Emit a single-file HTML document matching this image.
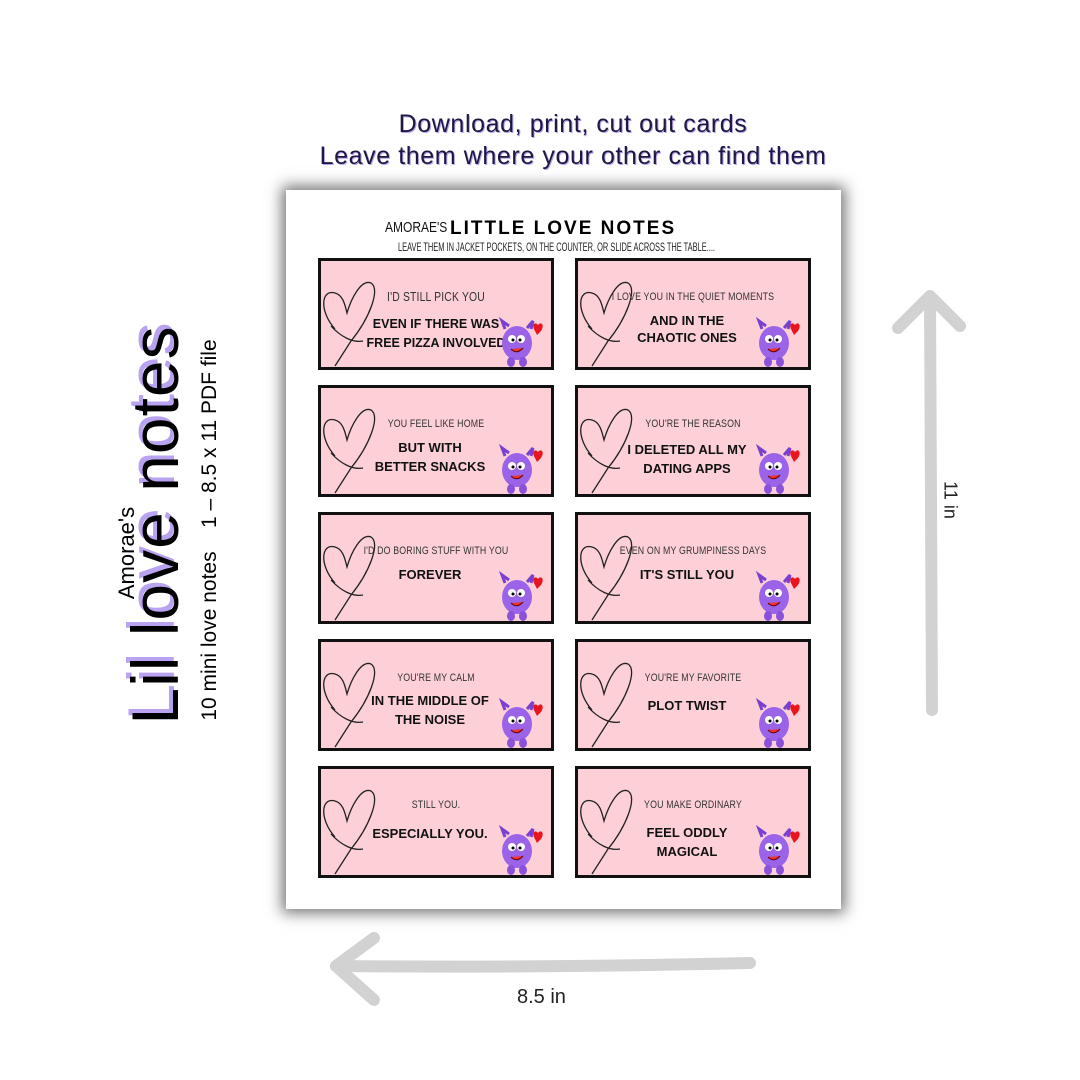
<!DOCTYPE html>
<html><head><meta charset="utf-8"><style>
body{margin:0;width:1080px;height:1080px;background:#fff;position:relative;overflow:hidden;font-family:"Liberation Sans",sans-serif}
.abs{position:absolute}
.top{left:0;width:1146px;text-align:center;font-size:25px;letter-spacing:.6px;color:#1d1840;text-shadow:1px 1px 0 #b9a2ef}
.sheet{left:286px;top:190px;width:555px;height:719px;background:#fff;box-shadow:0 0 14px 4px rgba(0,0,0,.55)}
.card{position:absolute;width:230px;height:106px;background:#fdd0d7;border:3px solid #111;box-sizing:content-box}
.card svg.h{position:absolute;left:0;top:10px}
.sm{position:absolute;left:0;width:100%;top:30px;text-align:center;font-size:11px;color:#333;transform:scaleX(.8);letter-spacing:.2px}
.bd{position:absolute;left:-6px;width:100%;top:52px;text-align:center;font-size:13px;font-weight:bold;line-height:19px;color:#111}
.mon{position:absolute;right:4px;bottom:-2px}
</style></head><body>
<div class="abs top" style="top:110px">Download, print, cut out cards</div>
<div class="abs top" style="top:142px;left:0">Leave them where your other can find them</div>

<div class="abs" style="left:155px;top:525px;transform:translate(-50%,-50%) rotate(-90deg);white-space:nowrap;font-size:66px;color:#000;text-shadow:4px -4px 0 #b9a2ef;letter-spacing:1px">Lil love notes</div>
<div class="abs" style="left:127px;top:553px;transform:translate(-50%,-50%) rotate(-90deg);white-space:nowrap;font-size:22px;color:#000">Amorae's</div>
<div class="abs" style="left:210px;top:530px;transform:translate(-50%,-50%) rotate(-90deg);white-space:nowrap;font-size:21px;color:#000">10 mini love notes &nbsp;&nbsp; 1 – 8.5 x 11 PDF file</div>

<svg class="abs" style="left:0;top:0" width="1080" height="1080">
<g stroke="#d2d2d2" stroke-width="12" fill="none" stroke-linecap="round" stroke-linejoin="round">
<path d="M932 710 L930 298"/><path d="M898 328 L930 296 L960 326"/>
<path d="M750 963 Q540 968 336 966"/><path d="M374 938 L336 966 L374 1000"/>
</g></svg>
<div class="abs" style="left:950px;top:500px;transform:translate(-50%,-50%) rotate(90deg);font-size:18px;color:#222">11 in</div>
<div class="abs" style="left:517px;top:986px;font-size:20px;color:#222">8.5 in</div>

<div class="abs sheet"></div>
<div class="abs" style="left:385px;top:219px;font-size:15px;transform:scaleX(.8);transform-origin:left;color:#111">AMORAE'S</div>
<div class="abs" style="left:450px;top:218px;font-size:19px;font-weight:bold;letter-spacing:2px;color:#000">LITTLE LOVE NOTES</div>
<div class="abs" style="left:398px;top:240px;font-size:12px;transform:scaleX(.62);transform-origin:left;color:#222;white-space:nowrap">LEAVE THEM IN JACKET POCKETS, ON THE COUNTER, OR SLIDE ACROSS THE TABLE....</div>

<svg width="0" height="0" style="position:absolute"><defs>
<g id="hrt"><path d="M14 58 C-2 40 0 18 14 22 C22 24 24 34 26 42 C30 28 40 8 50 12 C60 18 48 48 30 70 L14 95 M10 55 C20 66 32 72 42 70" stroke="#222" stroke-width="1.3" fill="none"/></g>
<g id="mon"><ellipse cx="20" cy="30" rx="15" ry="17" fill="#9a63e8"/><ellipse cx="14" cy="49" rx="4" ry="5" fill="#8a52da"/><ellipse cx="26" cy="49" rx="4" ry="5" fill="#8a52da"/><path d="M8 16 L5 8 L12 13 M30 15 L36 8 L34 16" stroke="#7a3fd0" stroke-width="3" fill="none"/><circle cx="15" cy="26" r="4" fill="#fff"/><circle cx="24" cy="26" r="4" fill="#fff"/><circle cx="16" cy="27" r="1.5"/><circle cx="23" cy="27" r="1.5"/><path d="M14 36 Q20 42 26 35" fill="#e33" stroke="#600"/><path d="M38 18 C34 12 38 8 41 12 C44 8 48 12 44 18 L40 22 Z" fill="#e8141e"/></g>
</defs></svg>

<div class="card" style="left:318px;top:258px"><svg class="h" width="60" height="100"><use href="#hrt"/></svg><div class="sm" style="font-size:13px;top:28px">I'D STILL PICK YOU</div><div class="bd" style="top:54px;left:0;font-size:12.5px">EVEN IF THERE WAS<br>FREE PIZZA INVOLVED</div><svg class="mon" width="50" height="56"><use href="#mon"/></svg></div>
<div class="card" style="left:575px;top:258px"><svg class="h" width="60" height="100"><use href="#hrt"/></svg><div class="sm">I LOVE YOU IN THE QUIET MOMENTS</div><div class="bd" style="top:51px;line-height:17px">AND IN THE<br>CHAOTIC ONES</div><svg class="mon" width="50" height="56"><use href="#mon"/></svg></div>
<div class="card" style="left:318px;top:385px"><svg class="h" width="60" height="100"><use href="#hrt"/></svg><div class="sm">YOU FEEL LIKE HOME</div><div class="bd" style="top:50px">BUT WITH<br>BETTER SNACKS</div><svg class="mon" width="50" height="56"><use href="#mon"/></svg></div>
<div class="card" style="left:575px;top:385px"><svg class="h" width="60" height="100"><use href="#hrt"/></svg><div class="sm">YOU'RE THE REASON</div><div class="bd" style="top:52px">I DELETED ALL MY<br>DATING APPS</div><svg class="mon" width="50" height="56"><use href="#mon"/></svg></div>
<div class="card" style="left:318px;top:512px"><svg class="h" width="60" height="100"><use href="#hrt"/></svg><div class="sm">I'D DO BORING STUFF WITH YOU</div><div class="bd" style="top:50px">FOREVER</div><svg class="mon" width="50" height="56"><use href="#mon"/></svg></div>
<div class="card" style="left:575px;top:512px"><svg class="h" width="60" height="100"><use href="#hrt"/></svg><div class="sm">EVEN ON MY GRUMPINESS DAYS</div><div class="bd" style="top:50px">IT'S STILL YOU</div><svg class="mon" width="50" height="56"><use href="#mon"/></svg></div>
<div class="card" style="left:318px;top:639px"><svg class="h" width="60" height="100"><use href="#hrt"/></svg><div class="sm">YOU'RE MY CALM</div><div class="bd" style="top:49px">IN THE MIDDLE OF<br>THE NOISE</div><svg class="mon" width="50" height="56"><use href="#mon"/></svg></div>
<div class="card" style="left:575px;top:639px"><svg class="h" width="60" height="100"><use href="#hrt"/></svg><div class="sm">YOU'RE MY FAVORITE</div><div class="bd" style="top:54px">PLOT TWIST</div><svg class="mon" width="50" height="56"><use href="#mon"/></svg></div>
<div class="card" style="left:318px;top:766px"><svg class="h" width="60" height="100"><use href="#hrt"/></svg><div class="sm">STILL YOU.</div><div class="bd" style="top:55px">ESPECIALLY YOU.</div><svg class="mon" width="50" height="56"><use href="#mon"/></svg></div>
<div class="card" style="left:575px;top:766px"><svg class="h" width="60" height="100"><use href="#hrt"/></svg><div class="sm">YOU MAKE ORDINARY</div><div class="bd" style="top:54px">FEEL ODDLY<br>MAGICAL</div><svg class="mon" width="50" height="56"><use href="#mon"/></svg></div>
</body></html>
